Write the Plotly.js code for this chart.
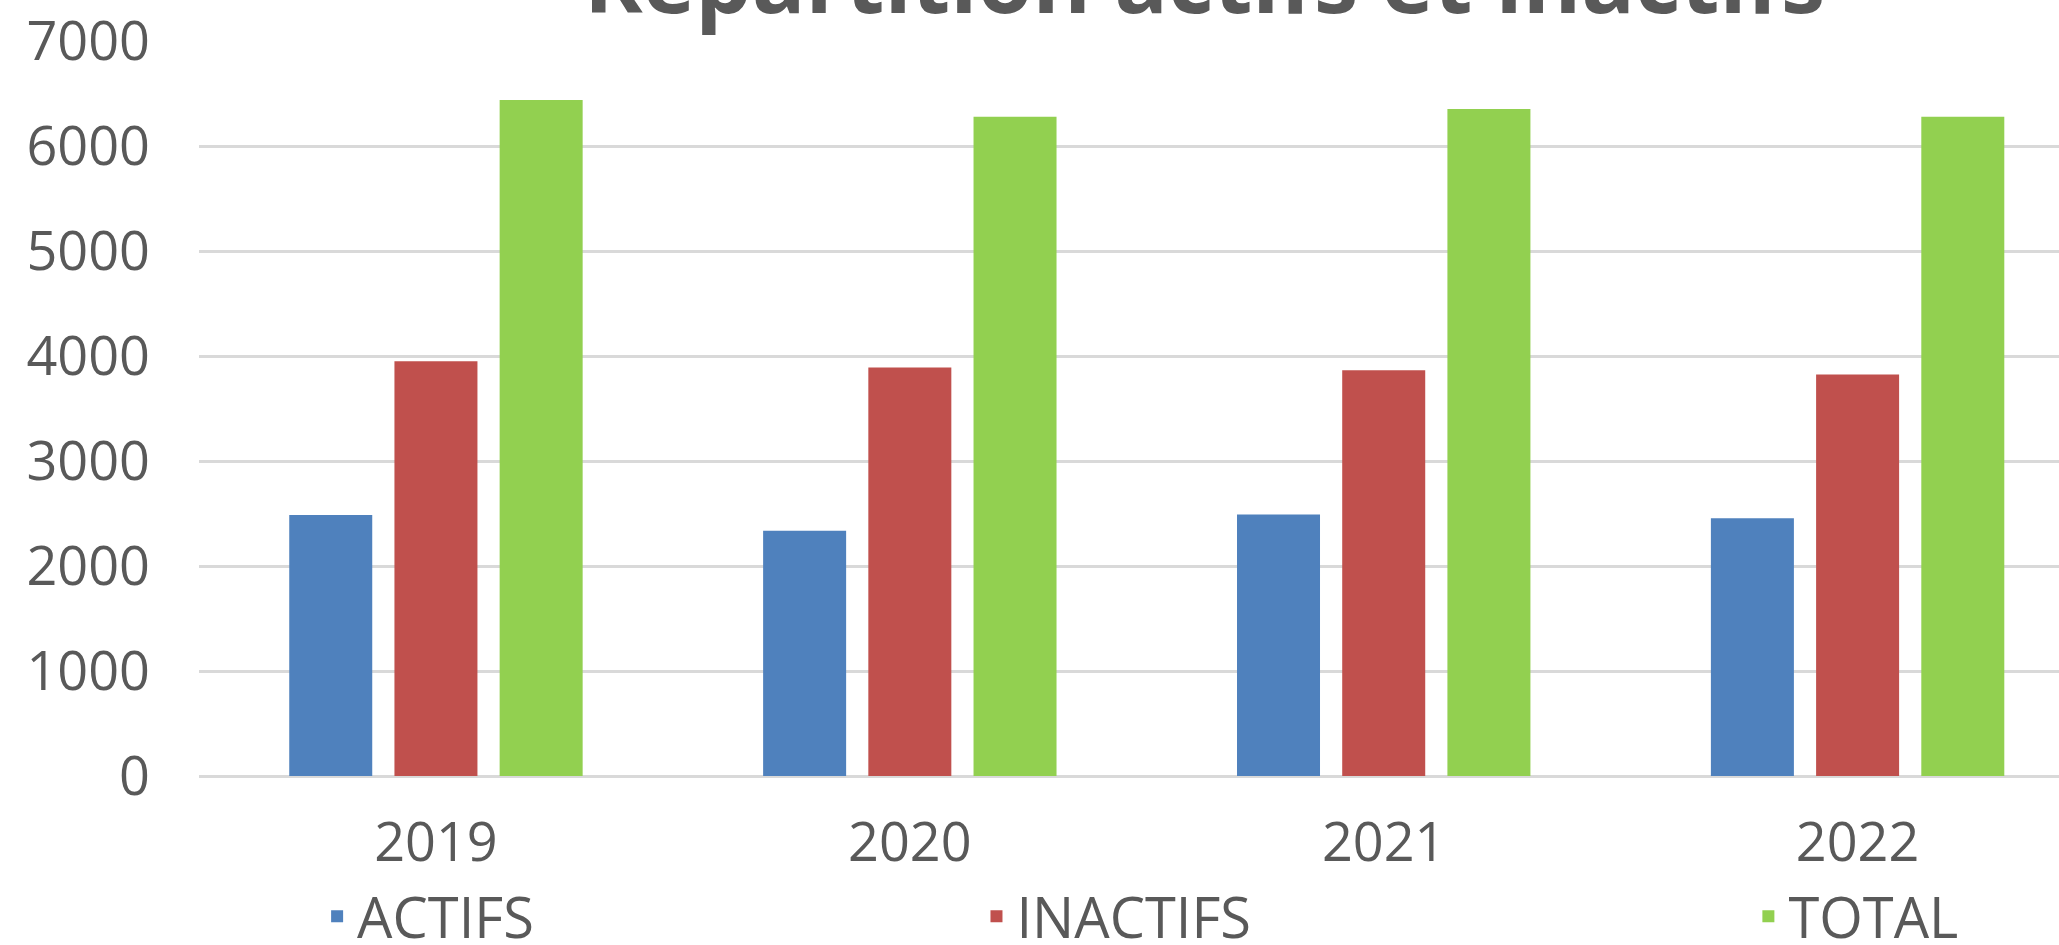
<!DOCTYPE html>
<html>
<head>
<meta charset="utf-8">
<script src="https://cdn.plot.ly/plotly-3.0.1.min.js"></script>
<style>
  html, body { margin: 0; padding: 0; background: #fff; }
  #chart { width: 2059px; height: 945px; }
</style>
</head>
<body>
<div id="chart"></div>
<script>
const years = ['2019', '2020', '2021', '2022']
const actifs = [2486, 2335, 2490, 2454]
const inactifs = [3950, 3890, 3864, 3823]
const total = [6438, 6279, 6352, 6279]
const yTicks = [0, 1000, 2000, 3000, 4000, 5000, 6000, 7000]

const grey = '#595959'
const font = 'Open Sans, Noto Sans, sans-serif'

function barTrace(name, values, color, legendId) {
    return {
        type: 'bar',
        name: name,
        x: years,
        y: values,
        marker: { color: color },
        legend: legendId,
        hoverinfo: 'x+y+name'
    }
}

const data = [
    barTrace('ACTIFS', actifs, '#4F81BD', 'legend'),
    barTrace('INACTIFS', inactifs, '#C0504D', 'legend2'),
    barTrace('TOTAL', total, '#92D050', 'legend3')
]

// each legend entry is placed on its own, like in the spreadsheet
function legendAt(x) {
    return {
        orientation: 'h',
        x: x,
        xanchor: 'left',
        y: -0.191,
        yanchor: 'middle',
        font: { family: font, size: 56, color: grey },
        bgcolor: 'rgba(0,0,0,0)'
    }
}

const layout = {
    width: 2059,
    height: 945,
    margin: { l: 199, r: 0, t: 41, b: 169, autoexpand: false },
    paper_bgcolor: '#fff',
    plot_bgcolor: '#fff',
    font: { family: font, color: grey },
    barmode: 'group',
    bargap: 0.334,
    bargroupgap: 0.211,
    showlegend: true,
    legend: legendAt(0.0635),
    legend2: legendAt(0.418),
    legend3: legendAt(0.833),
    xaxis: {
        type: 'category',
        range: [-0.5, 3.425],
        showgrid: false,
        showline: false,
        automargin: false,
        ticks: '',
        ticklabelstandoff: 30,
        tickfont: { family: font, size: 54, color: grey }
    },
    yaxis: {
        range: [0, 7000],
        tickvals: yTicks,
        showgrid: true,
        gridcolor: '#d9d9d9',
        gridwidth: 3,
        zeroline: true,
        zerolinecolor: '#d9d9d9',
        zerolinewidth: 3,
        showline: false,
        automargin: false,
        ticks: '',
        ticklabelstandoff: 48,
        tickfont: { family: font, size: 54, color: grey }
    },
    annotations: [{
        text: '<b>Répartition actifs et inactifs</b>',
        xref: 'paper',
        yref: 'paper',
        x: 0.5406,
        y: 1.0857,
        xanchor: 'center',
        yanchor: 'middle',
        showarrow: false,
        font: { family: font, size: 89, color: grey }
    }]
}

Plotly.newPlot('chart', data, layout, { displayModeBar: false, staticPlot: true })
</script>
</body>
</html>
